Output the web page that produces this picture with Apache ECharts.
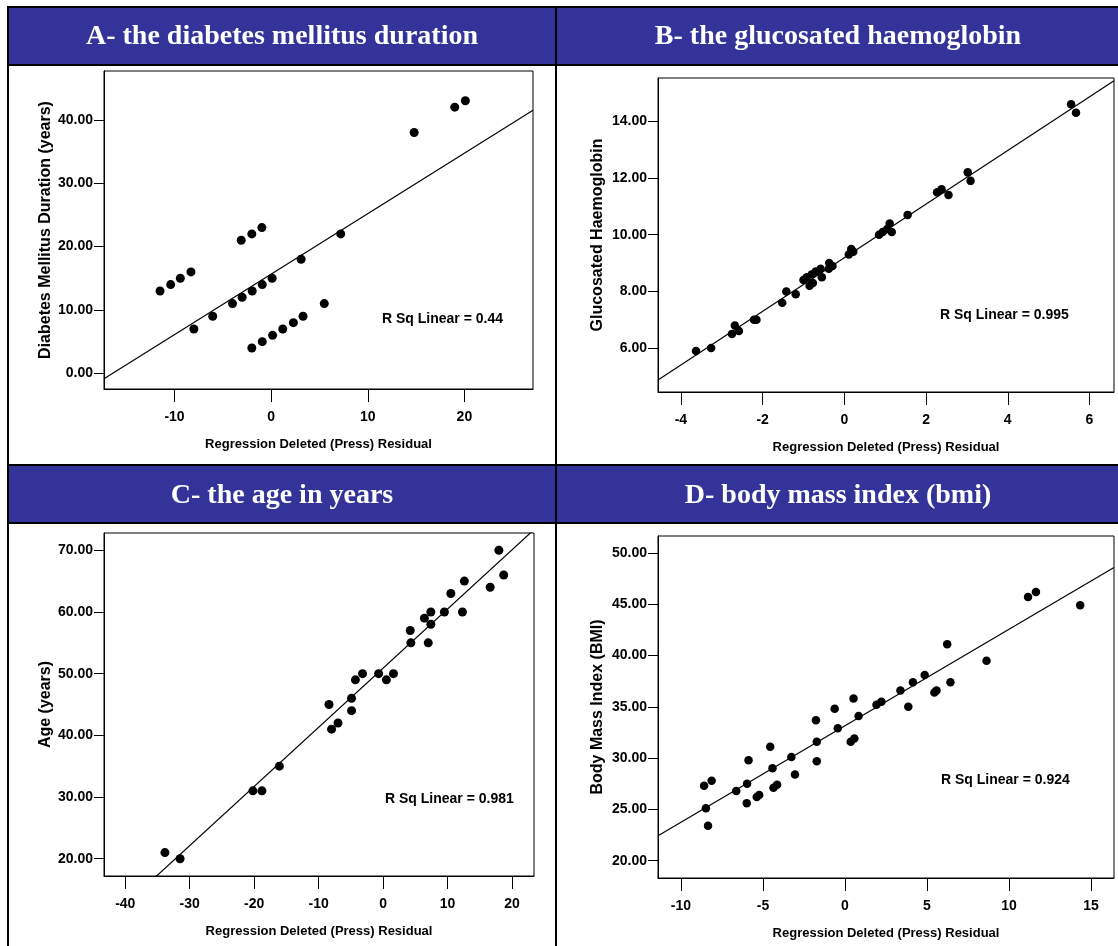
<!DOCTYPE html>
<html>
<head>
<meta charset="utf-8">
<style>
html, body { margin: 0; padding: 0; background: #fff; }
#regress { width: 1118px; height: 946px; }
</style>
<script src="https://cdn.jsdelivr.net/npm/echarts@6.0.0/dist/echarts.min.js"></script>
</head>
<body>
<div id="regress"></div>
<script>
var titles = ['A- the diabetes mellitus duration', 'B- the glucosated haemoglobin', 'C- the age in years', 'D- body mass index (bmi)'];
var yNames = ['Diabetes Mellitus Duration (years)', 'Glucosated Haemoglobin', 'Age (years)', 'Body Mass Index (BMI)'];
var xName = 'Regression Deleted (Press) Residual';
var rSquared = ['0.44', '0.995', '0.981', '0.924'];

// press residual (x) against the observed value (y)
var durationX = [-11.5, -10.4, -9.4, -8.3, -8.0, -6.05, -4.0, -3.0, -3.1, -2.0, -0.96, -1.96, -0.92, 0.1, 3.1, 7.2, -2.0, -0.92, 0.15, 1.2, 2.3, 3.3, 5.5, 14.8, 19.0, 20.1];
var durationY = [13, 14, 15, 16, 7, 9, 11, 12, 21, 22, 23, 13, 14, 15, 18, 22, 4, 5, 6, 7, 8, 9, 11, 38, 42, 43];

var hbX = [-3.63, -3.26, -2.75, -2.68, -2.58, -2.21, -2.15, -1.52, -1.42, -1.19, -1.0, -0.92, -0.85, -0.8, -0.77, -0.7, -0.58, -0.55, -0.37, -0.38, -0.29, 0.11, 0.17, 0.22, 0.85, 0.94, 1.05, 1.11, 1.16, 1.55, 2.27, 2.38, 2.55, 3.02, 3.09, 5.55, 5.67];
var hbY = [5.9, 6.0, 6.5, 6.8, 6.6, 7.0, 7.0, 7.6, 8.0, 7.9, 8.4, 8.5, 8.2, 8.6, 8.3, 8.7, 8.8, 8.5, 9.0, 8.8, 8.9, 9.3, 9.5, 9.4, 10.0, 10.1, 10.2, 10.4, 10.1, 10.7, 11.5, 11.6, 11.4, 12.2, 11.9, 14.6, 14.3];

var ageX = [-33.85, -31.5, -20.2, -18.8, -16.1, -8.4, -8.0, -7.0, -4.9, -4.9, -4.3, -3.2, -0.7, 0.5, 1.6, 4.2, 4.3, 6.4, 7.0, 7.4, 7.4, 9.5, 10.5, 12.3, 12.6, 16.6, 17.95, 18.7];
var ageY = [21, 20, 31, 31, 35, 45, 41, 42, 46, 44, 49, 50, 50, 49, 50, 57, 55, 59, 55, 60, 58, 60, 63, 60, 65, 64, 70, 66];

var bmiX = [-8.59, -8.13, -8.48, -8.35, -6.63, -5.97, -5.88, -5.99, -5.38, -5.23, -4.56, -4.42, -4.36, -4.14, -3.27, -3.05, -1.77, -1.72, -1.72, -0.63, -0.44, 0.35, 0.57, 0.52, 0.83, 1.92, 2.22, 3.38, 3.86, 4.14, 4.86, 5.45, 5.58, 6.23, 6.43, 8.63, 11.16, 11.64, 14.34];
var bmiY = [27.3, 27.8, 25.1, 23.4, 26.8, 27.5, 29.8, 25.6, 26.2, 26.4, 31.1, 29.0, 27.1, 27.4, 30.1, 28.4, 33.7, 31.6, 29.7, 34.8, 32.9, 31.6, 31.9, 35.8, 34.1, 35.2, 35.5, 36.6, 35.0, 37.4, 38.1, 36.4, 36.6, 41.1, 37.4, 39.5, 45.7, 46.2, 44.9];

// linear fit [intercept, slope] as drawn in the figure
var fitLines = [[15.64, 0.954], [9.19, 0.946], [50.9, 0.959], [33.15, 0.9406]];

var xRanges = [[-17.3, 27.1], [-4.56, 6.6], [-43.3, 23.4], [-11.4, 16.4]];
var yRanges = [[-2.47, 47.7], [4.45, 15.53], [17.2, 72.8], [18.31, 51.65]];
var xTicks = [[-10, 0, 10, 20], [-4, -2, 0, 2, 4, 6], [-40, -30, -20, -10, 0, 10, 20], [-10, -5, 0, 5, 10, 15]];
var yTicks = [[0, 10, 20, 30, 40], [6, 8, 10, 12, 14], [20, 30, 40, 50, 60, 70], [20, 25, 30, 35, 40, 45, 50]];

var xs = [durationX, hbX, ageX, bmiX];
var ys = [durationY, hbY, ageY, bmiY];

var grids = [
    {left: 104, top: 71, width: 429, height: 318},
    {left: 658, top: 78, width: 456, height: 314},
    {left: 104, top: 533, width: 430, height: 343},
    {left: 658, top: 536, width: 456, height: 342}
];
var headerCenters = [[282, 37], [838, 37], [282, 496], [838, 496]];
var rsqPos = [[382, 319], [940, 315], [385, 799], [941, 780]];
var yNameGap = [48, 52, 48, 52];
var dotSize = [9, 8.5, 9, 8.5];

var sans = '"Liberation Sans", Arial, sans-serif';
var blue = '#333399';

dom = document.getElementById('regress');
myChart = echarts.init(dom, null, {renderer: 'canvas'});

option = {
    backgroundColor: '#ffffff',
    animation: false,
    grid: [],
    xAxis: [],
    yAxis: [],
    series: [],
    graphic: []
};

for (var i = 0; i < 4; i++) {
    var g = grids[i];
    option.grid.push({
        left: g.left, top: g.top, width: g.width, height: g.height,
        show: true, borderColor: '#000', borderWidth: 1, backgroundColor: '#fff'
    });
    option.xAxis.push({
        type: 'value', gridIndex: i,
        min: xRanges[i][0], max: xRanges[i][1],
        name: xName, nameLocation: 'middle', nameGap: 49,
        nameTextStyle: {fontFamily: sans, fontWeight: 'bold', fontSize: 13, color: '#000'},
        axisLine: {show: true, onZero: false, lineStyle: {color: '#000', width: 1}},
        axisTick: {show: true, length: 13, lineStyle: {color: '#000'}, customValues: xTicks[i]},
        axisLabel: {customValues: xTicks[i], margin: 21, fontFamily: sans, fontWeight: 'bold', fontSize: 14, color: '#000'},
        splitLine: {show: false}
    });
    option.yAxis.push({
        type: 'value', gridIndex: i,
        min: yRanges[i][0], max: yRanges[i][1],
        name: yNames[i], nameLocation: 'middle', nameGap: yNameGap[i], nameRotate: 90,
        nameTextStyle: {fontFamily: sans, fontWeight: 'bold', fontSize: 16, color: '#000'},
        axisLine: {show: true, onZero: false, lineStyle: {color: '#000', width: 1}},
        axisTick: {show: true, length: 10, lineStyle: {color: '#000'}, customValues: yTicks[i]},
        axisLabel: {
            customValues: yTicks[i], margin: 11, fontFamily: sans, fontWeight: 'bold', fontSize: 14, color: '#000',
            formatter: function (v) { return v.toFixed(2); }
        },
        splitLine: {show: false}
    });

    var pts = [];
    for (var k = 0; k < xs[i].length; k++) {
        pts.push([xs[i][k], ys[i][k]]);
    }
    var a = fitLines[i][0], b = fitLines[i][1];
    var x0 = xRanges[i][0], x1 = xRanges[i][1];
    option.series.push({
        type: 'line', xAxisIndex: i, yAxisIndex: i,
        data: [[x0, a + b * x0], [x1, a + b * x1]],
        showSymbol: false, clip: true, silent: true,
        lineStyle: {color: '#000', width: 1.2}, z: 2
    });
    option.series.push({
        type: 'scatter', xAxisIndex: i, yAxisIndex: i,
        data: pts, symbol: 'circle', symbolSize: dotSize[i],
        itemStyle: {color: '#000', opacity: 1}, z: 3
    });

    option.graphic.push({
        type: 'text', x: rsqPos[i][0], y: rsqPos[i][1], z: 10,
        style: {text: 'R Sq Linear = ' + rSquared[i], fill: '#000', font: 'bold 14px ' + sans, textVerticalAlign: 'middle'}
    });
}

// header bands and table rules
option.graphic.push(
    {type: 'rect', shape: {x: 8, y: 7, width: 1110, height: 58}, style: {fill: blue}, z: 1},
    {type: 'rect', shape: {x: 8, y: 465, width: 1110, height: 58}, style: {fill: blue}, z: 1},
    {type: 'line', shape: {x1: 7, y1: 7, x2: 1118, y2: 7}, style: {stroke: '#000', lineWidth: 2}, z: 5},
    {type: 'line', shape: {x1: 7, y1: 65, x2: 1118, y2: 65}, style: {stroke: '#000', lineWidth: 2}, z: 5},
    {type: 'line', shape: {x1: 7, y1: 465, x2: 1118, y2: 465}, style: {stroke: '#000', lineWidth: 2}, z: 5},
    {type: 'line', shape: {x1: 7, y1: 523, x2: 1118, y2: 523}, style: {stroke: '#000', lineWidth: 2}, z: 5},
    {type: 'line', shape: {x1: 8, y1: 6, x2: 8, y2: 946}, style: {stroke: '#000', lineWidth: 2}, z: 5},
    {type: 'line', shape: {x1: 556, y1: 6, x2: 556, y2: 946}, style: {stroke: '#000', lineWidth: 2}, z: 5}
);
for (var j = 0; j < 4; j++) {
    option.graphic.push({
        type: 'text', x: headerCenters[j][0], y: headerCenters[j][1], z: 6,
        style: {text: titles[j], fill: '#fff', font: 'bold 28px "Liberation Serif", "DejaVu Serif", serif', textAlign: 'center', textVerticalAlign: 'middle'}
    });
}

if (option && typeof option === 'object') {
    myChart.setOption(option, true);
}
</script>
</body>
</html>
